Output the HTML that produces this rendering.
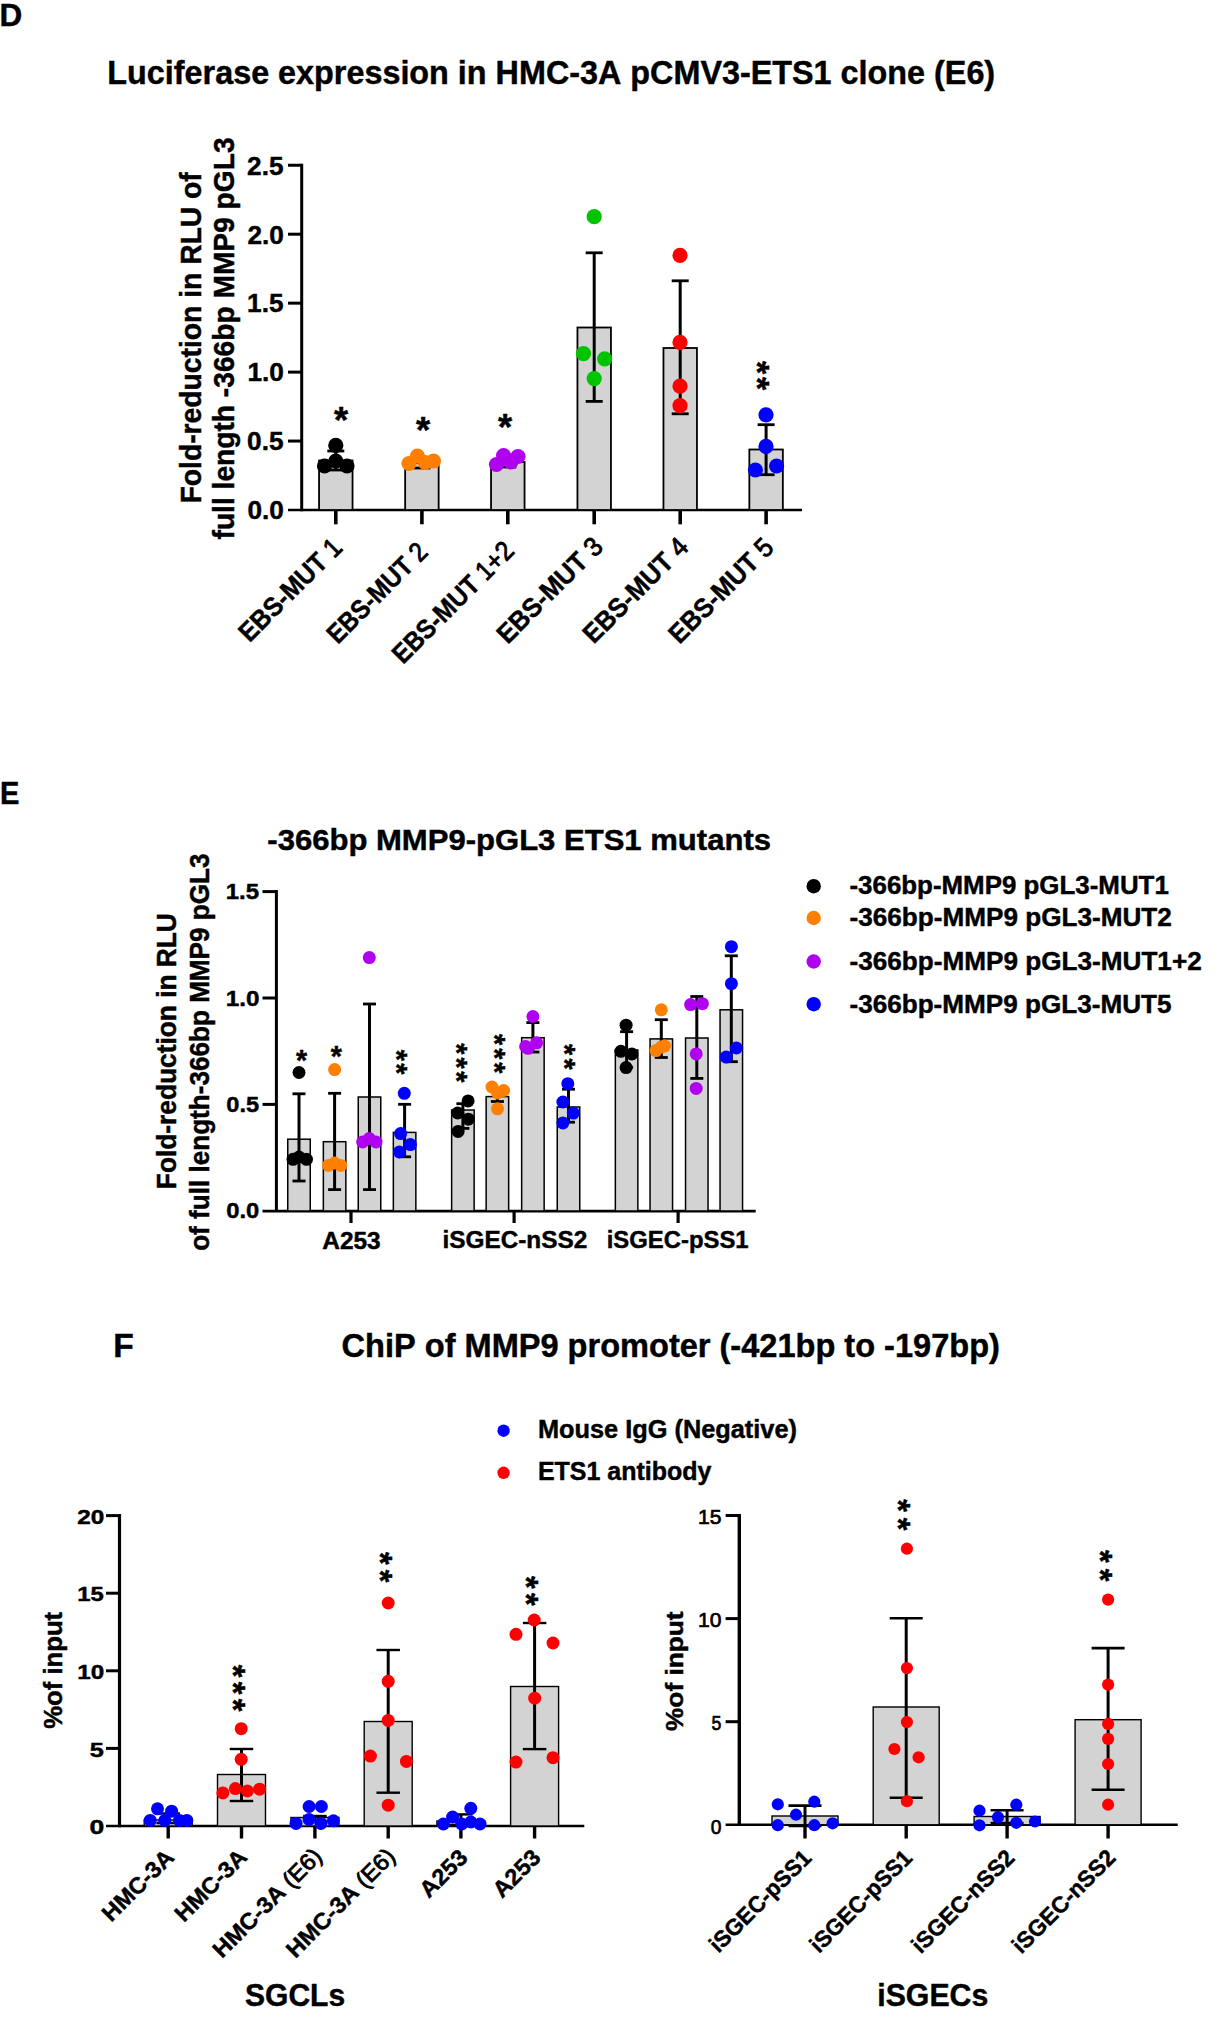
<!DOCTYPE html>
<html><head><meta charset="utf-8"><style>
html,body{margin:0;padding:0;background:#fff;}
body{width:1227px;height:2020px;overflow:hidden;}
svg{display:block;font-family:"Liberation Sans",sans-serif;font-kerning:none;}
text{font-kerning:none;}
[font-weight="700"]{stroke:#000;stroke-width:0.45px;}
</style></head><body>
<svg width="1227" height="2020" viewBox="0 0 1227 2020">
<rect width="1227" height="2020" fill="#fff"/>
<text transform="translate(-0.51,26.10) scale(1.0152,1)" font-size="31.00" font-weight="700" fill="#000">D</text>
<text transform="translate(107.34,83.50) scale(0.9517,1)" font-size="34.00" font-weight="700" fill="#000">Luciferase expression in HMC-3A pCMV3-ETS1 clone (E6)</text>
<line x1="301.70" y1="163.75" x2="301.70" y2="511.30" stroke="#000" stroke-width="3" stroke-linecap="butt"/>
<line x1="288.00" y1="441.05" x2="301.70" y2="441.05" stroke="#000" stroke-width="3" stroke-linecap="butt"/>
<line x1="288.00" y1="372.10" x2="301.70" y2="372.10" stroke="#000" stroke-width="3" stroke-linecap="butt"/>
<line x1="288.00" y1="303.15" x2="301.70" y2="303.15" stroke="#000" stroke-width="3" stroke-linecap="butt"/>
<line x1="288.00" y1="234.20" x2="301.70" y2="234.20" stroke="#000" stroke-width="3" stroke-linecap="butt"/>
<line x1="288.00" y1="165.25" x2="301.70" y2="165.25" stroke="#000" stroke-width="3" stroke-linecap="butt"/>
<text transform="translate(247.45,519.30) scale(0.9850,1)" font-size="26.60" font-weight="700" fill="#000">0.0</text>
<text transform="translate(247.11,450.35) scale(0.9850,1)" font-size="26.60" font-weight="700" fill="#000">0.5</text>
<text transform="translate(247.45,381.40) scale(0.9850,1)" font-size="26.60" font-weight="700" fill="#000">1.0</text>
<text transform="translate(247.11,312.45) scale(0.9850,1)" font-size="26.60" font-weight="700" fill="#000">1.5</text>
<text transform="translate(247.45,243.50) scale(0.9850,1)" font-size="26.60" font-weight="700" fill="#000">2.0</text>
<text transform="translate(247.11,174.55) scale(0.9850,1)" font-size="26.60" font-weight="700" fill="#000">2.5</text>
<line x1="288.00" y1="510.00" x2="802.00" y2="510.00" stroke="#000" stroke-width="2.6" stroke-linecap="butt"/>
<line x1="335.80" y1="511.00" x2="335.80" y2="524.30" stroke="#000" stroke-width="3.6" stroke-linecap="butt"/>
<line x1="421.90" y1="511.00" x2="421.90" y2="524.30" stroke="#000" stroke-width="3.6" stroke-linecap="butt"/>
<line x1="507.80" y1="511.00" x2="507.80" y2="524.30" stroke="#000" stroke-width="3.6" stroke-linecap="butt"/>
<line x1="594.20" y1="511.00" x2="594.20" y2="524.30" stroke="#000" stroke-width="3.6" stroke-linecap="butt"/>
<line x1="680.20" y1="511.00" x2="680.20" y2="524.30" stroke="#000" stroke-width="3.6" stroke-linecap="butt"/>
<line x1="766.10" y1="511.00" x2="766.10" y2="524.30" stroke="#000" stroke-width="3.6" stroke-linecap="butt"/>
<rect x="319.05" y="460.50" width="33.50" height="49.50" fill="#d3d3d3" stroke="#000" stroke-width="1.8"/>
<rect x="405.15" y="463.00" width="33.50" height="47.00" fill="#d3d3d3" stroke="#000" stroke-width="1.8"/>
<rect x="491.05" y="462.00" width="33.50" height="48.00" fill="#d3d3d3" stroke="#000" stroke-width="1.8"/>
<rect x="577.45" y="327.50" width="33.50" height="182.50" fill="#d3d3d3" stroke="#000" stroke-width="1.8"/>
<rect x="663.45" y="348.00" width="33.50" height="162.00" fill="#d3d3d3" stroke="#000" stroke-width="1.8"/>
<rect x="749.35" y="449.50" width="33.50" height="60.50" fill="#d3d3d3" stroke="#000" stroke-width="1.8"/>
<line x1="335.80" y1="451.00" x2="335.80" y2="470.00" stroke="#000" stroke-width="3" stroke-linecap="butt"/>
<line x1="327.30" y1="451.00" x2="344.30" y2="451.00" stroke="#000" stroke-width="2.8" stroke-linecap="butt"/>
<line x1="327.30" y1="470.00" x2="344.30" y2="470.00" stroke="#000" stroke-width="2.8" stroke-linecap="butt"/>
<line x1="421.90" y1="458.00" x2="421.90" y2="468.00" stroke="#000" stroke-width="3" stroke-linecap="butt"/>
<line x1="413.40" y1="458.00" x2="430.40" y2="458.00" stroke="#000" stroke-width="2.8" stroke-linecap="butt"/>
<line x1="413.40" y1="468.00" x2="430.40" y2="468.00" stroke="#000" stroke-width="2.8" stroke-linecap="butt"/>
<line x1="507.80" y1="457.00" x2="507.80" y2="467.00" stroke="#000" stroke-width="3" stroke-linecap="butt"/>
<line x1="499.30" y1="457.00" x2="516.30" y2="457.00" stroke="#000" stroke-width="2.8" stroke-linecap="butt"/>
<line x1="499.30" y1="467.00" x2="516.30" y2="467.00" stroke="#000" stroke-width="2.8" stroke-linecap="butt"/>
<line x1="594.20" y1="252.80" x2="594.20" y2="401.40" stroke="#000" stroke-width="3" stroke-linecap="butt"/>
<line x1="585.70" y1="252.80" x2="602.70" y2="252.80" stroke="#000" stroke-width="2.8" stroke-linecap="butt"/>
<line x1="585.70" y1="401.40" x2="602.70" y2="401.40" stroke="#000" stroke-width="2.8" stroke-linecap="butt"/>
<line x1="680.20" y1="280.80" x2="680.20" y2="413.80" stroke="#000" stroke-width="3" stroke-linecap="butt"/>
<line x1="671.70" y1="280.80" x2="688.70" y2="280.80" stroke="#000" stroke-width="2.8" stroke-linecap="butt"/>
<line x1="671.70" y1="413.80" x2="688.70" y2="413.80" stroke="#000" stroke-width="2.8" stroke-linecap="butt"/>
<line x1="766.10" y1="424.70" x2="766.10" y2="474.70" stroke="#000" stroke-width="3" stroke-linecap="butt"/>
<line x1="757.60" y1="424.70" x2="774.60" y2="424.70" stroke="#000" stroke-width="2.8" stroke-linecap="butt"/>
<line x1="757.60" y1="474.70" x2="774.60" y2="474.70" stroke="#000" stroke-width="2.8" stroke-linecap="butt"/>
<circle cx="335.80" cy="445.30" r="7.60" fill="#000"/>
<circle cx="324.50" cy="466.00" r="7.60" fill="#000"/>
<circle cx="335.80" cy="461.00" r="7.60" fill="#000"/>
<circle cx="347.00" cy="466.00" r="7.60" fill="#000"/>
<circle cx="409.00" cy="463.50" r="7.60" fill="#ff8000"/>
<circle cx="417.40" cy="456.00" r="7.60" fill="#ff8000"/>
<circle cx="425.20" cy="462.50" r="7.60" fill="#ff8000"/>
<circle cx="433.50" cy="461.00" r="7.60" fill="#ff8000"/>
<circle cx="496.50" cy="464.50" r="7.60" fill="#b000f0"/>
<circle cx="503.60" cy="455.60" r="7.60" fill="#b000f0"/>
<circle cx="510.80" cy="461.90" r="7.60" fill="#b000f0"/>
<circle cx="518.00" cy="456.50" r="7.60" fill="#b000f0"/>
<circle cx="594.20" cy="216.70" r="7.60" fill="#00c400"/>
<circle cx="583.50" cy="353.60" r="7.60" fill="#00c400"/>
<circle cx="604.70" cy="358.80" r="7.60" fill="#00c400"/>
<circle cx="594.20" cy="378.60" r="7.60" fill="#00c400"/>
<circle cx="680.00" cy="255.40" r="7.60" fill="#ff0000"/>
<circle cx="680.00" cy="342.40" r="7.60" fill="#ff0000"/>
<circle cx="680.00" cy="386.20" r="7.60" fill="#ff0000"/>
<circle cx="680.00" cy="405.70" r="7.60" fill="#ff0000"/>
<circle cx="766.00" cy="414.80" r="7.60" fill="#0000ff"/>
<circle cx="766.00" cy="446.40" r="7.60" fill="#0000ff"/>
<circle cx="755.40" cy="470.00" r="7.60" fill="#0000ff"/>
<circle cx="776.60" cy="466.00" r="7.60" fill="#0000ff"/>
<text transform="translate(333.89,433.25)" font-size="36.36" font-weight="700" fill="#000">*</text>
<text transform="translate(415.89,443.25)" font-size="36.36" font-weight="700" fill="#000">*</text>
<text transform="translate(497.89,440.25)" font-size="36.36" font-weight="700" fill="#000">*</text>
<text transform="translate(745.55,360.90) rotate(90)" font-size="33.77" font-weight="700" fill="#000">*</text>
<text transform="translate(745.55,376.90) rotate(90)" font-size="33.77" font-weight="700" fill="#000">*</text>
<text transform="translate(200.50,503.49) rotate(-90) scale(0.9751,1)" font-size="29.00" font-weight="700" fill="#000">Fold-reduction in RLU of</text>
<text transform="translate(233.80,539.48) rotate(-90) scale(0.9713,1)" font-size="29.00" font-weight="700" fill="#000">full length -366bp MMP9 pGL3</text>
<text transform="translate(249.46,643.36) rotate(-45) scale(0.9156,1)" font-size="27.00" fill="#000"><tspan font-weight="700">EBS-MUT </tspan><tspan font-weight="400" stroke="#000" stroke-width="0.9">1</tspan></text>
<text transform="translate(337.78,644.92) rotate(-45) scale(0.8872,1)" font-size="27.00" fill="#000"><tspan font-weight="700">EBS-MUT </tspan><tspan font-weight="400" stroke="#000" stroke-width="0.9">2</tspan></text>
<text transform="translate(402.91,665.08) rotate(-45) scale(0.9035,1)" font-size="27.00" fill="#000"><tspan font-weight="700">EBS-MUT </tspan><tspan font-weight="400" stroke="#000" stroke-width="0.9">1+2</tspan></text>
<text transform="translate(507.63,645.00) rotate(-45) scale(0.9413,1)" font-size="27.00" fill="#000"><tspan font-weight="700">EBS-MUT </tspan><tspan font-weight="400" stroke="#000" stroke-width="0.9">3</tspan></text>
<text transform="translate(593.79,644.84) rotate(-45) scale(0.9351,1)" font-size="27.00" fill="#000"><tspan font-weight="700">EBS-MUT </tspan><tspan font-weight="400" stroke="#000" stroke-width="0.9">4</tspan></text>
<text transform="translate(679.43,644.88) rotate(-45) scale(0.9319,1)" font-size="27.00" fill="#000"><tspan font-weight="700">EBS-MUT </tspan><tspan font-weight="400" stroke="#000" stroke-width="0.9">5</tspan></text>
<text transform="translate(0.06,804.00) scale(0.9372,1)" font-size="31.00" font-weight="700" fill="#000">E</text>
<text transform="translate(267.29,850.20) scale(1.0424,1)" font-size="29.80" font-weight="700" fill="#000">-366bp MMP9-pGL3 ETS1 mutants</text>
<line x1="276.40" y1="890.10" x2="276.40" y2="1212.00" stroke="#000" stroke-width="3" stroke-linecap="butt"/>
<line x1="262.50" y1="1104.40" x2="276.40" y2="1104.40" stroke="#000" stroke-width="3" stroke-linecap="butt"/>
<line x1="262.50" y1="998.00" x2="276.40" y2="998.00" stroke="#000" stroke-width="3" stroke-linecap="butt"/>
<line x1="262.50" y1="891.60" x2="276.40" y2="891.60" stroke="#000" stroke-width="3" stroke-linecap="butt"/>
<text transform="translate(226.26,1218.40) scale(1.0732,1)" font-size="22.20" font-weight="700" fill="#000">0.0</text>
<text transform="translate(226.27,1112.00) scale(1.0625,1)" font-size="22.20" font-weight="700" fill="#000">0.5</text>
<text transform="translate(225.67,1005.60) scale(1.0927,1)" font-size="22.20" font-weight="700" fill="#000">1.0</text>
<text transform="translate(225.69,899.20) scale(1.0816,1)" font-size="22.20" font-weight="700" fill="#000">1.5</text>
<line x1="262.50" y1="1211.10" x2="755.70" y2="1211.10" stroke="#000" stroke-width="2.8" stroke-linecap="butt"/>
<line x1="351.00" y1="1211.00" x2="351.00" y2="1223.00" stroke="#000" stroke-width="3.2" stroke-linecap="butt"/>
<line x1="514.10" y1="1211.00" x2="514.10" y2="1223.00" stroke="#000" stroke-width="3.2" stroke-linecap="butt"/>
<line x1="678.10" y1="1211.00" x2="678.10" y2="1223.00" stroke="#000" stroke-width="3.2" stroke-linecap="butt"/>
<text transform="translate(322.29,1248.50) scale(1.0394,1)" font-size="23.50" font-weight="700" fill="#000">A253</text>
<text transform="translate(442.60,1248.00) scale(1.0354,1)" font-size="23.50" font-weight="700" fill="#000">iSGEC-nSS2</text>
<text transform="translate(606.63,1248.00) scale(1.0165,1)" font-size="23.50" font-weight="700" fill="#000">iSGEC-pSS1</text>
<rect x="287.75" y="1139.20" width="22.50" height="71.80" fill="#d3d3d3" stroke="#000" stroke-width="1.5"/>
<rect x="323.35" y="1141.70" width="22.50" height="69.30" fill="#d3d3d3" stroke="#000" stroke-width="1.5"/>
<rect x="358.25" y="1097.00" width="22.50" height="114.00" fill="#d3d3d3" stroke="#000" stroke-width="1.5"/>
<rect x="393.35" y="1132.40" width="22.50" height="78.60" fill="#d3d3d3" stroke="#000" stroke-width="1.5"/>
<rect x="451.65" y="1110.00" width="22.50" height="101.00" fill="#d3d3d3" stroke="#000" stroke-width="1.5"/>
<rect x="486.15" y="1096.60" width="22.50" height="114.40" fill="#d3d3d3" stroke="#000" stroke-width="1.5"/>
<rect x="521.65" y="1037.70" width="22.50" height="173.30" fill="#d3d3d3" stroke="#000" stroke-width="1.5"/>
<rect x="557.25" y="1107.00" width="22.50" height="104.00" fill="#d3d3d3" stroke="#000" stroke-width="1.5"/>
<rect x="615.35" y="1050.00" width="22.50" height="161.00" fill="#d3d3d3" stroke="#000" stroke-width="1.5"/>
<rect x="650.05" y="1038.90" width="22.50" height="172.10" fill="#d3d3d3" stroke="#000" stroke-width="1.5"/>
<rect x="685.55" y="1038.00" width="22.50" height="173.00" fill="#d3d3d3" stroke="#000" stroke-width="1.5"/>
<rect x="720.05" y="1009.80" width="22.50" height="201.20" fill="#d3d3d3" stroke="#000" stroke-width="1.5"/>
<line x1="299.00" y1="1093.80" x2="299.00" y2="1181.00" stroke="#000" stroke-width="3" stroke-linecap="butt"/>
<line x1="292.50" y1="1093.80" x2="305.50" y2="1093.80" stroke="#000" stroke-width="2.8" stroke-linecap="butt"/>
<line x1="292.50" y1="1181.00" x2="305.50" y2="1181.00" stroke="#000" stroke-width="2.8" stroke-linecap="butt"/>
<line x1="334.60" y1="1093.30" x2="334.60" y2="1189.60" stroke="#000" stroke-width="3" stroke-linecap="butt"/>
<line x1="328.10" y1="1093.30" x2="341.10" y2="1093.30" stroke="#000" stroke-width="2.8" stroke-linecap="butt"/>
<line x1="328.10" y1="1189.60" x2="341.10" y2="1189.60" stroke="#000" stroke-width="2.8" stroke-linecap="butt"/>
<line x1="369.50" y1="1004.00" x2="369.50" y2="1189.60" stroke="#000" stroke-width="3" stroke-linecap="butt"/>
<line x1="363.00" y1="1004.00" x2="376.00" y2="1004.00" stroke="#000" stroke-width="2.8" stroke-linecap="butt"/>
<line x1="363.00" y1="1189.60" x2="376.00" y2="1189.60" stroke="#000" stroke-width="2.8" stroke-linecap="butt"/>
<line x1="404.60" y1="1104.30" x2="404.60" y2="1156.80" stroke="#000" stroke-width="3" stroke-linecap="butt"/>
<line x1="398.10" y1="1104.30" x2="411.10" y2="1104.30" stroke="#000" stroke-width="2.8" stroke-linecap="butt"/>
<line x1="398.10" y1="1156.80" x2="411.10" y2="1156.80" stroke="#000" stroke-width="2.8" stroke-linecap="butt"/>
<line x1="462.90" y1="1103.70" x2="462.90" y2="1128.40" stroke="#000" stroke-width="3" stroke-linecap="butt"/>
<line x1="456.40" y1="1103.70" x2="469.40" y2="1103.70" stroke="#000" stroke-width="2.8" stroke-linecap="butt"/>
<line x1="456.40" y1="1128.40" x2="469.40" y2="1128.40" stroke="#000" stroke-width="2.8" stroke-linecap="butt"/>
<line x1="497.40" y1="1091.00" x2="497.40" y2="1101.50" stroke="#000" stroke-width="3" stroke-linecap="butt"/>
<line x1="490.90" y1="1091.00" x2="503.90" y2="1091.00" stroke="#000" stroke-width="2.8" stroke-linecap="butt"/>
<line x1="490.90" y1="1101.50" x2="503.90" y2="1101.50" stroke="#000" stroke-width="2.8" stroke-linecap="butt"/>
<line x1="532.90" y1="1022.60" x2="532.90" y2="1052.00" stroke="#000" stroke-width="3" stroke-linecap="butt"/>
<line x1="526.40" y1="1022.60" x2="539.40" y2="1022.60" stroke="#000" stroke-width="2.8" stroke-linecap="butt"/>
<line x1="526.40" y1="1052.00" x2="539.40" y2="1052.00" stroke="#000" stroke-width="2.8" stroke-linecap="butt"/>
<line x1="568.50" y1="1089.20" x2="568.50" y2="1122.20" stroke="#000" stroke-width="3" stroke-linecap="butt"/>
<line x1="562.00" y1="1089.20" x2="575.00" y2="1089.20" stroke="#000" stroke-width="2.8" stroke-linecap="butt"/>
<line x1="562.00" y1="1122.20" x2="575.00" y2="1122.20" stroke="#000" stroke-width="2.8" stroke-linecap="butt"/>
<line x1="626.60" y1="1031.70" x2="626.60" y2="1067.30" stroke="#000" stroke-width="3" stroke-linecap="butt"/>
<line x1="620.10" y1="1031.70" x2="633.10" y2="1031.70" stroke="#000" stroke-width="2.8" stroke-linecap="butt"/>
<line x1="620.10" y1="1067.30" x2="633.10" y2="1067.30" stroke="#000" stroke-width="2.8" stroke-linecap="butt"/>
<line x1="661.30" y1="1019.70" x2="661.30" y2="1057.50" stroke="#000" stroke-width="3" stroke-linecap="butt"/>
<line x1="654.80" y1="1019.70" x2="667.80" y2="1019.70" stroke="#000" stroke-width="2.8" stroke-linecap="butt"/>
<line x1="654.80" y1="1057.50" x2="667.80" y2="1057.50" stroke="#000" stroke-width="2.8" stroke-linecap="butt"/>
<line x1="696.80" y1="996.50" x2="696.80" y2="1078.40" stroke="#000" stroke-width="3" stroke-linecap="butt"/>
<line x1="690.30" y1="996.50" x2="703.30" y2="996.50" stroke="#000" stroke-width="2.8" stroke-linecap="butt"/>
<line x1="690.30" y1="1078.40" x2="703.30" y2="1078.40" stroke="#000" stroke-width="2.8" stroke-linecap="butt"/>
<line x1="731.30" y1="955.80" x2="731.30" y2="1061.70" stroke="#000" stroke-width="3" stroke-linecap="butt"/>
<line x1="724.80" y1="955.80" x2="737.80" y2="955.80" stroke="#000" stroke-width="2.8" stroke-linecap="butt"/>
<line x1="724.80" y1="1061.70" x2="737.80" y2="1061.70" stroke="#000" stroke-width="2.8" stroke-linecap="butt"/>
<circle cx="299.00" cy="1072.50" r="6.50" fill="#000"/>
<circle cx="293.00" cy="1159.30" r="6.50" fill="#000"/>
<circle cx="299.00" cy="1157.00" r="6.50" fill="#000"/>
<circle cx="306.50" cy="1159.30" r="6.50" fill="#000"/>
<circle cx="334.60" cy="1069.60" r="6.50" fill="#ff8000"/>
<circle cx="328.50" cy="1165.40" r="6.50" fill="#ff8000"/>
<circle cx="334.60" cy="1163.00" r="6.50" fill="#ff8000"/>
<circle cx="340.70" cy="1165.40" r="6.50" fill="#ff8000"/>
<circle cx="369.30" cy="957.60" r="6.50" fill="#b000f0"/>
<circle cx="362.70" cy="1142.00" r="6.50" fill="#b000f0"/>
<circle cx="369.30" cy="1138.50" r="6.50" fill="#b000f0"/>
<circle cx="376.00" cy="1142.00" r="6.50" fill="#b000f0"/>
<circle cx="404.30" cy="1093.30" r="6.50" fill="#0000ff"/>
<circle cx="400.60" cy="1133.60" r="6.50" fill="#0000ff"/>
<circle cx="410.40" cy="1144.60" r="6.50" fill="#0000ff"/>
<circle cx="399.40" cy="1152.00" r="6.50" fill="#0000ff"/>
<circle cx="468.10" cy="1100.90" r="6.50" fill="#000"/>
<circle cx="457.70" cy="1113.00" r="6.50" fill="#000"/>
<circle cx="468.40" cy="1119.20" r="6.50" fill="#000"/>
<circle cx="458.10" cy="1131.40" r="6.50" fill="#000"/>
<circle cx="492.00" cy="1087.00" r="6.50" fill="#ff8000"/>
<circle cx="503.60" cy="1090.50" r="6.50" fill="#ff8000"/>
<circle cx="497.50" cy="1093.00" r="6.50" fill="#ff8000"/>
<circle cx="497.50" cy="1108.80" r="6.50" fill="#ff8000"/>
<circle cx="532.90" cy="1016.50" r="6.50" fill="#b000f0"/>
<circle cx="528.00" cy="1048.30" r="6.50" fill="#b000f0"/>
<circle cx="536.60" cy="1042.80" r="6.50" fill="#b000f0"/>
<circle cx="525.60" cy="1046.50" r="6.50" fill="#b000f0"/>
<circle cx="567.80" cy="1083.70" r="6.50" fill="#0000ff"/>
<circle cx="562.90" cy="1102.00" r="6.50" fill="#0000ff"/>
<circle cx="573.30" cy="1113.10" r="6.50" fill="#0000ff"/>
<circle cx="562.90" cy="1122.90" r="6.50" fill="#0000ff"/>
<circle cx="626.10" cy="1025.20" r="6.50" fill="#000"/>
<circle cx="620.90" cy="1051.30" r="6.50" fill="#000"/>
<circle cx="631.90" cy="1053.90" r="6.50" fill="#000"/>
<circle cx="626.10" cy="1067.60" r="6.50" fill="#000"/>
<circle cx="661.30" cy="1009.80" r="6.50" fill="#ff8000"/>
<circle cx="656.00" cy="1050.60" r="6.50" fill="#ff8000"/>
<circle cx="664.50" cy="1046.00" r="6.50" fill="#ff8000"/>
<circle cx="661.30" cy="1047.00" r="6.50" fill="#ff8000"/>
<circle cx="690.60" cy="1004.60" r="6.50" fill="#b000f0"/>
<circle cx="702.40" cy="1003.70" r="6.50" fill="#b000f0"/>
<circle cx="696.20" cy="1053.90" r="6.50" fill="#b000f0"/>
<circle cx="696.20" cy="1088.40" r="6.50" fill="#b000f0"/>
<circle cx="731.40" cy="946.70" r="6.50" fill="#0000ff"/>
<circle cx="731.40" cy="983.70" r="6.50" fill="#0000ff"/>
<circle cx="736.30" cy="1048.00" r="6.50" fill="#0000ff"/>
<circle cx="726.20" cy="1057.10" r="6.50" fill="#0000ff"/>
<text transform="translate(296.01,1069.74)" font-size="28.57" font-weight="700" fill="#000">*</text>
<text transform="translate(330.71,1066.04)" font-size="28.57" font-weight="700" fill="#000">*</text>
<text transform="translate(387.46,1049.81) rotate(90)" font-size="28.57" font-weight="700" fill="#000">*</text>
<text transform="translate(387.46,1063.21) rotate(90)" font-size="28.57" font-weight="700" fill="#000">*</text>
<text transform="translate(447.06,1043.31) rotate(90)" font-size="28.57" font-weight="700" fill="#000">*</text>
<text transform="translate(447.06,1057.41) rotate(90)" font-size="28.57" font-weight="700" fill="#000">*</text>
<text transform="translate(447.06,1071.21) rotate(90)" font-size="28.57" font-weight="700" fill="#000">*</text>
<text transform="translate(485.16,1034.11) rotate(90)" font-size="28.57" font-weight="700" fill="#000">*</text>
<text transform="translate(485.16,1048.21) rotate(90)" font-size="28.57" font-weight="700" fill="#000">*</text>
<text transform="translate(485.16,1062.21) rotate(90)" font-size="28.57" font-weight="700" fill="#000">*</text>
<text transform="translate(555.46,1043.91) rotate(90)" font-size="28.57" font-weight="700" fill="#000">*</text>
<text transform="translate(555.46,1058.61) rotate(90)" font-size="28.57" font-weight="700" fill="#000">*</text>
<text transform="translate(176.00,1189.16) rotate(-90) scale(0.9391,1)" font-size="28.00" font-weight="700" fill="#000">Fold-reduction in RLU</text>
<text transform="translate(208.80,1250.82) rotate(-90) scale(0.9325,1)" font-size="28.00" font-weight="700" fill="#000">of full length-366bp MMP9 pGL3</text>
<circle cx="813.70" cy="886.20" r="7.20" fill="#000"/>
<circle cx="813.70" cy="918.00" r="7.20" fill="#ff8000"/>
<circle cx="813.70" cy="961.50" r="7.20" fill="#b000f0"/>
<circle cx="813.70" cy="1004.20" r="7.20" fill="#0000ff"/>
<text transform="translate(849.49,894.20) scale(0.9776,1)" font-size="26.50" font-weight="700" fill="#000">-366bp-MMP9 pGL3-MUT1</text>
<text transform="translate(849.48,926.20) scale(0.9866,1)" font-size="26.50" font-weight="700" fill="#000">-366bp-MMP9 pGL3-MUT2</text>
<text transform="translate(849.48,969.70) scale(0.9871,1)" font-size="26.50" font-weight="700" fill="#000">-366bp-MMP9 pGL3-MUT1+2</text>
<text transform="translate(849.48,1012.70) scale(0.9856,1)" font-size="26.50" font-weight="700" fill="#000">-366bp-MMP9 pGL3-MUT5</text>
<text transform="translate(113.36,1356.50) scale(1.0154,1)" font-size="33.00" font-weight="700" fill="#000">F</text>
<text transform="translate(341.56,1357.20) scale(0.9871,1)" font-size="33.00" font-weight="700" fill="#000">ChiP of MMP9 promoter (-421bp to -197bp)</text>
<circle cx="503.60" cy="1430.70" r="6.20" fill="#0000ff"/>
<circle cx="503.60" cy="1472.80" r="6.20" fill="#ff0000"/>
<text transform="translate(537.90,1438.20) scale(0.9945,1)" font-size="25.50" font-weight="700" fill="#000">Mouse IgG (Negative)</text>
<text transform="translate(537.93,1479.80) scale(0.9802,1)" font-size="25.50" font-weight="700" fill="#000">ETS1 antibody</text>
<line x1="119.50" y1="1514.10" x2="119.50" y2="1827.30" stroke="#000" stroke-width="3.2" stroke-linecap="butt"/>
<line x1="106.00" y1="1748.40" x2="119.50" y2="1748.40" stroke="#000" stroke-width="3" stroke-linecap="butt"/>
<line x1="106.00" y1="1670.80" x2="119.50" y2="1670.80" stroke="#000" stroke-width="3" stroke-linecap="butt"/>
<line x1="106.00" y1="1593.20" x2="119.50" y2="1593.20" stroke="#000" stroke-width="3" stroke-linecap="butt"/>
<line x1="106.00" y1="1515.60" x2="119.50" y2="1515.60" stroke="#000" stroke-width="3" stroke-linecap="butt"/>
<text transform="translate(89.55,1834.20) scale(1.2737,1)" font-size="20.80" font-weight="700" fill="#000">0</text>
<text transform="translate(89.82,1756.60) scale(1.2175,1)" font-size="20.80" font-weight="700" fill="#000">5</text>
<text transform="translate(77.28,1679.00) scale(1.1634,1)" font-size="20.80" font-weight="700" fill="#000">10</text>
<text transform="translate(77.30,1601.40) scale(1.1484,1)" font-size="20.80" font-weight="700" fill="#000">15</text>
<text transform="translate(77.16,1523.80) scale(1.1687,1)" font-size="20.80" font-weight="700" fill="#000">20</text>
<line x1="106.00" y1="1826.00" x2="584.30" y2="1826.00" stroke="#000" stroke-width="2.6" stroke-linecap="butt"/>
<line x1="168.20" y1="1827.00" x2="168.20" y2="1838.50" stroke="#000" stroke-width="3.4" stroke-linecap="butt"/>
<line x1="241.50" y1="1827.00" x2="241.50" y2="1838.50" stroke="#000" stroke-width="3.4" stroke-linecap="butt"/>
<line x1="314.90" y1="1827.00" x2="314.90" y2="1838.50" stroke="#000" stroke-width="3.4" stroke-linecap="butt"/>
<line x1="388.20" y1="1827.00" x2="388.20" y2="1838.50" stroke="#000" stroke-width="3.4" stroke-linecap="butt"/>
<line x1="460.90" y1="1827.00" x2="460.90" y2="1838.50" stroke="#000" stroke-width="3.4" stroke-linecap="butt"/>
<line x1="534.60" y1="1827.00" x2="534.60" y2="1838.50" stroke="#000" stroke-width="3.4" stroke-linecap="butt"/>
<rect x="144.20" y="1820.00" width="48.00" height="6.00" fill="#d3d3d3" stroke="#000" stroke-width="1.4"/>
<rect x="217.50" y="1774.50" width="48.00" height="51.50" fill="#d3d3d3" stroke="#000" stroke-width="1.4"/>
<rect x="290.90" y="1817.50" width="48.00" height="8.50" fill="#d3d3d3" stroke="#000" stroke-width="1.4"/>
<rect x="364.20" y="1721.50" width="48.00" height="104.50" fill="#d3d3d3" stroke="#000" stroke-width="1.4"/>
<rect x="436.90" y="1821.00" width="48.00" height="5.00" fill="#d3d3d3" stroke="#000" stroke-width="1.4"/>
<rect x="510.60" y="1686.50" width="48.00" height="139.50" fill="#d3d3d3" stroke="#000" stroke-width="1.4"/>
<line x1="168.20" y1="1813.50" x2="168.20" y2="1823.00" stroke="#000" stroke-width="3" stroke-linecap="butt"/>
<line x1="156.45" y1="1813.50" x2="179.95" y2="1813.50" stroke="#000" stroke-width="2.4" stroke-linecap="butt"/>
<line x1="156.45" y1="1823.00" x2="179.95" y2="1823.00" stroke="#000" stroke-width="2.4" stroke-linecap="butt"/>
<line x1="241.50" y1="1749.00" x2="241.50" y2="1801.00" stroke="#000" stroke-width="3" stroke-linecap="butt"/>
<line x1="229.75" y1="1749.00" x2="253.25" y2="1749.00" stroke="#000" stroke-width="2.4" stroke-linecap="butt"/>
<line x1="229.75" y1="1801.00" x2="253.25" y2="1801.00" stroke="#000" stroke-width="2.4" stroke-linecap="butt"/>
<line x1="314.90" y1="1816.00" x2="314.90" y2="1821.00" stroke="#000" stroke-width="3" stroke-linecap="butt"/>
<line x1="303.15" y1="1816.00" x2="326.65" y2="1816.00" stroke="#000" stroke-width="2.4" stroke-linecap="butt"/>
<line x1="303.15" y1="1821.00" x2="326.65" y2="1821.00" stroke="#000" stroke-width="2.4" stroke-linecap="butt"/>
<line x1="388.20" y1="1650.00" x2="388.20" y2="1792.70" stroke="#000" stroke-width="3" stroke-linecap="butt"/>
<line x1="376.45" y1="1650.00" x2="399.95" y2="1650.00" stroke="#000" stroke-width="2.4" stroke-linecap="butt"/>
<line x1="376.45" y1="1792.70" x2="399.95" y2="1792.70" stroke="#000" stroke-width="2.4" stroke-linecap="butt"/>
<line x1="460.90" y1="1814.40" x2="460.90" y2="1825.00" stroke="#000" stroke-width="3" stroke-linecap="butt"/>
<line x1="449.15" y1="1814.40" x2="472.65" y2="1814.40" stroke="#000" stroke-width="2.4" stroke-linecap="butt"/>
<line x1="449.15" y1="1825.00" x2="472.65" y2="1825.00" stroke="#000" stroke-width="2.4" stroke-linecap="butt"/>
<line x1="534.60" y1="1623.00" x2="534.60" y2="1749.10" stroke="#000" stroke-width="3" stroke-linecap="butt"/>
<line x1="522.85" y1="1623.00" x2="546.35" y2="1623.00" stroke="#000" stroke-width="2.4" stroke-linecap="butt"/>
<line x1="522.85" y1="1749.10" x2="546.35" y2="1749.10" stroke="#000" stroke-width="2.4" stroke-linecap="butt"/>
<circle cx="157.50" cy="1808.80" r="6.50" fill="#0000ff"/>
<circle cx="171.60" cy="1811.20" r="6.50" fill="#0000ff"/>
<circle cx="150.20" cy="1820.40" r="6.50" fill="#0000ff"/>
<circle cx="164.80" cy="1820.40" r="6.50" fill="#0000ff"/>
<circle cx="179.50" cy="1820.40" r="6.50" fill="#0000ff"/>
<circle cx="186.80" cy="1820.40" r="6.50" fill="#0000ff"/>
<circle cx="241.20" cy="1728.70" r="6.50" fill="#ff0000"/>
<circle cx="241.20" cy="1759.30" r="6.50" fill="#ff0000"/>
<circle cx="222.90" cy="1792.90" r="6.50" fill="#ff0000"/>
<circle cx="235.40" cy="1788.60" r="6.50" fill="#ff0000"/>
<circle cx="247.40" cy="1791.00" r="6.50" fill="#ff0000"/>
<circle cx="259.60" cy="1789.20" r="6.50" fill="#ff0000"/>
<circle cx="309.10" cy="1806.50" r="6.50" fill="#0000ff"/>
<circle cx="321.40" cy="1806.50" r="6.50" fill="#0000ff"/>
<circle cx="296.00" cy="1823.40" r="6.50" fill="#0000ff"/>
<circle cx="309.10" cy="1819.50" r="6.50" fill="#0000ff"/>
<circle cx="320.90" cy="1823.40" r="6.50" fill="#0000ff"/>
<circle cx="333.40" cy="1820.80" r="6.50" fill="#0000ff"/>
<circle cx="388.20" cy="1603.00" r="6.50" fill="#ff0000"/>
<circle cx="388.20" cy="1681.30" r="6.50" fill="#ff0000"/>
<circle cx="388.20" cy="1720.40" r="6.50" fill="#ff0000"/>
<circle cx="370.40" cy="1756.10" r="6.50" fill="#ff0000"/>
<circle cx="406.40" cy="1761.40" r="6.50" fill="#ff0000"/>
<circle cx="388.20" cy="1805.20" r="6.50" fill="#ff0000"/>
<circle cx="470.80" cy="1808.30" r="6.50" fill="#0000ff"/>
<circle cx="452.60" cy="1817.00" r="6.50" fill="#0000ff"/>
<circle cx="443.40" cy="1824.00" r="6.50" fill="#0000ff"/>
<circle cx="461.70" cy="1824.00" r="6.50" fill="#0000ff"/>
<circle cx="470.80" cy="1822.00" r="6.50" fill="#0000ff"/>
<circle cx="480.00" cy="1824.00" r="6.50" fill="#0000ff"/>
<circle cx="534.20" cy="1620.00" r="6.50" fill="#ff0000"/>
<circle cx="516.00" cy="1634.30" r="6.50" fill="#ff0000"/>
<circle cx="553.00" cy="1643.00" r="6.50" fill="#ff0000"/>
<circle cx="534.70" cy="1698.20" r="6.50" fill="#ff0000"/>
<circle cx="516.00" cy="1762.10" r="6.50" fill="#ff0000"/>
<circle cx="553.00" cy="1757.70" r="6.50" fill="#ff0000"/>
<text transform="translate(222.00,1664.65) rotate(90)" font-size="32.47" font-weight="700" fill="#000">*</text>
<text transform="translate(222.00,1681.65) rotate(90)" font-size="32.47" font-weight="700" fill="#000">*</text>
<text transform="translate(222.00,1698.65) rotate(90)" font-size="32.47" font-weight="700" fill="#000">*</text>
<text transform="translate(369.30,1552.05) rotate(90)" font-size="32.47" font-weight="700" fill="#000">*</text>
<text transform="translate(369.30,1569.65) rotate(90)" font-size="32.47" font-weight="700" fill="#000">*</text>
<text transform="translate(515.00,1576.05) rotate(90)" font-size="32.47" font-weight="700" fill="#000">*</text>
<text transform="translate(515.00,1593.05) rotate(90)" font-size="32.47" font-weight="700" fill="#000">*</text>
<text transform="translate(61.70,1728.84) rotate(-90) scale(1.0281,1)" font-size="25.00" font-weight="700" fill="#000">%of input</text>
<text transform="translate(111.31,1922.72) rotate(-45) scale(1.0120,1)" font-size="23.00" fill="#000"><tspan font-weight="700">HMC-3A</tspan></text>
<text transform="translate(184.10,1922.92) rotate(-45) scale(1.0187,1)" font-size="23.00" fill="#000"><tspan font-weight="700">HMC-3A</tspan></text>
<text transform="translate(222.10,1958.95) rotate(-45) scale(1.0280,1)" font-size="23.00" fill="#000"><tspan font-weight="700">HMC-3A </tspan><tspan font-weight="400" stroke="#000" stroke-width="0.9">(E6)</tspan></text>
<text transform="translate(295.48,1958.92) rotate(-45) scale(1.0275,1)" font-size="23.00" fill="#000"><tspan font-weight="700">HMC-3A </tspan><tspan font-weight="400" stroke="#000" stroke-width="0.9">(E6)</tspan></text>
<text transform="translate(428.83,1899.10) rotate(-45) scale(1.0343,1)" font-size="23.00" fill="#000"><tspan font-weight="700">A253</tspan></text>
<text transform="translate(501.91,1899.07) rotate(-45) scale(1.0328,1)" font-size="23.00" fill="#000"><tspan font-weight="700">A253</tspan></text>
<text transform="translate(245.04,2006.00) scale(0.9382,1)" font-size="32.00" font-weight="700" fill="#000">SGCLs</text>
<line x1="739.30" y1="1514.00" x2="739.30" y2="1826.00" stroke="#000" stroke-width="3.4" stroke-linecap="butt"/>
<line x1="725.60" y1="1721.70" x2="739.30" y2="1721.70" stroke="#000" stroke-width="3" stroke-linecap="butt"/>
<line x1="725.60" y1="1618.60" x2="739.30" y2="1618.60" stroke="#000" stroke-width="3" stroke-linecap="butt"/>
<line x1="725.60" y1="1515.50" x2="739.30" y2="1515.50" stroke="#000" stroke-width="3" stroke-linecap="butt"/>
<text transform="translate(710.65,1833.50) scale(0.9165,1)" font-size="21.00" font-weight="400" fill="#000" stroke="#000" stroke-width="0.7">0</text>
<text transform="translate(711.49,1730.40) scale(0.8437,1)" font-size="21.00" font-weight="400" fill="#000" stroke="#000" stroke-width="0.7">5</text>
<text transform="translate(698.00,1627.30) scale(1.0029,1)" font-size="21.00" font-weight="400" fill="#000" stroke="#000" stroke-width="0.7">10</text>
<text transform="translate(697.99,1524.20) scale(1.0059,1)" font-size="21.00" font-weight="400" fill="#000" stroke="#000" stroke-width="0.7">15</text>
<line x1="725.60" y1="1824.80" x2="1177.70" y2="1824.80" stroke="#000" stroke-width="2.6" stroke-linecap="butt"/>
<line x1="805.00" y1="1826.00" x2="805.00" y2="1838.50" stroke="#000" stroke-width="3.4" stroke-linecap="butt"/>
<line x1="906.20" y1="1826.00" x2="906.20" y2="1838.50" stroke="#000" stroke-width="3.4" stroke-linecap="butt"/>
<line x1="1007.10" y1="1826.00" x2="1007.10" y2="1838.50" stroke="#000" stroke-width="3.4" stroke-linecap="butt"/>
<line x1="1108.10" y1="1826.00" x2="1108.10" y2="1838.50" stroke="#000" stroke-width="3.4" stroke-linecap="butt"/>
<rect x="772.00" y="1816.00" width="66.00" height="8.80" fill="#d3d3d3" stroke="#000" stroke-width="1.4"/>
<rect x="873.20" y="1707.00" width="66.00" height="117.80" fill="#d3d3d3" stroke="#000" stroke-width="1.4"/>
<rect x="974.10" y="1816.50" width="66.00" height="8.30" fill="#d3d3d3" stroke="#000" stroke-width="1.4"/>
<rect x="1075.10" y="1719.70" width="66.00" height="105.10" fill="#d3d3d3" stroke="#000" stroke-width="1.4"/>
<line x1="805.00" y1="1805.60" x2="805.00" y2="1826.00" stroke="#000" stroke-width="3" stroke-linecap="butt"/>
<line x1="788.50" y1="1805.60" x2="821.50" y2="1805.60" stroke="#000" stroke-width="2.6" stroke-linecap="butt"/>
<line x1="788.50" y1="1826.00" x2="821.50" y2="1826.00" stroke="#000" stroke-width="2.6" stroke-linecap="butt"/>
<line x1="906.20" y1="1618.30" x2="906.20" y2="1797.80" stroke="#000" stroke-width="3" stroke-linecap="butt"/>
<line x1="889.70" y1="1618.30" x2="922.70" y2="1618.30" stroke="#000" stroke-width="2.6" stroke-linecap="butt"/>
<line x1="889.70" y1="1797.80" x2="922.70" y2="1797.80" stroke="#000" stroke-width="2.6" stroke-linecap="butt"/>
<line x1="1007.10" y1="1810.20" x2="1007.10" y2="1823.00" stroke="#000" stroke-width="3" stroke-linecap="butt"/>
<line x1="990.60" y1="1810.20" x2="1023.60" y2="1810.20" stroke="#000" stroke-width="2.6" stroke-linecap="butt"/>
<line x1="990.60" y1="1823.00" x2="1023.60" y2="1823.00" stroke="#000" stroke-width="2.6" stroke-linecap="butt"/>
<line x1="1108.10" y1="1648.10" x2="1108.10" y2="1789.70" stroke="#000" stroke-width="3" stroke-linecap="butt"/>
<line x1="1091.60" y1="1648.10" x2="1124.60" y2="1648.10" stroke="#000" stroke-width="2.6" stroke-linecap="butt"/>
<line x1="1091.60" y1="1789.70" x2="1124.60" y2="1789.70" stroke="#000" stroke-width="2.6" stroke-linecap="butt"/>
<circle cx="777.80" cy="1804.30" r="6.10" fill="#0000ff"/>
<circle cx="814.30" cy="1801.70" r="6.10" fill="#0000ff"/>
<circle cx="796.00" cy="1814.70" r="6.10" fill="#0000ff"/>
<circle cx="777.80" cy="1825.20" r="6.10" fill="#0000ff"/>
<circle cx="814.30" cy="1825.20" r="6.10" fill="#0000ff"/>
<circle cx="832.60" cy="1823.30" r="6.10" fill="#0000ff"/>
<circle cx="906.90" cy="1548.70" r="6.10" fill="#ff0000"/>
<circle cx="906.90" cy="1668.10" r="6.10" fill="#ff0000"/>
<circle cx="906.90" cy="1722.10" r="6.10" fill="#ff0000"/>
<circle cx="894.40" cy="1749.00" r="6.10" fill="#ff0000"/>
<circle cx="918.60" cy="1757.30" r="6.10" fill="#ff0000"/>
<circle cx="906.90" cy="1801.20" r="6.10" fill="#ff0000"/>
<circle cx="979.50" cy="1810.70" r="6.10" fill="#0000ff"/>
<circle cx="1016.30" cy="1804.70" r="6.10" fill="#0000ff"/>
<circle cx="998.00" cy="1817.20" r="6.10" fill="#0000ff"/>
<circle cx="979.50" cy="1825.30" r="6.10" fill="#0000ff"/>
<circle cx="1016.30" cy="1822.80" r="6.10" fill="#0000ff"/>
<circle cx="1035.00" cy="1821.50" r="6.10" fill="#0000ff"/>
<circle cx="1108.10" cy="1599.60" r="6.10" fill="#ff0000"/>
<circle cx="1108.10" cy="1684.60" r="6.10" fill="#ff0000"/>
<circle cx="1108.10" cy="1723.90" r="6.10" fill="#ff0000"/>
<circle cx="1108.10" cy="1738.90" r="6.10" fill="#ff0000"/>
<circle cx="1108.10" cy="1764.00" r="6.10" fill="#ff0000"/>
<circle cx="1108.10" cy="1804.70" r="6.10" fill="#ff0000"/>
<text transform="translate(886.70,1499.25) rotate(90)" font-size="32.47" font-weight="700" fill="#000">*</text>
<text transform="translate(886.70,1517.65) rotate(90)" font-size="32.47" font-weight="700" fill="#000">*</text>
<text transform="translate(1088.80,1549.95) rotate(90)" font-size="32.47" font-weight="700" fill="#000">*</text>
<text transform="translate(1088.80,1568.65) rotate(90)" font-size="32.47" font-weight="700" fill="#000">*</text>
<text transform="translate(683.40,1730.95) rotate(-90) scale(1.0708,1)" font-size="24.50" font-weight="700" fill="#000">%of input</text>
<text transform="translate(718.45,1953.78) rotate(-45) scale(0.9764,1)" font-size="23.00" fill="#000"><tspan font-weight="700">iSGEC-pSS1</tspan></text>
<text transform="translate(818.97,1953.91) rotate(-45) scale(0.9791,1)" font-size="23.00" fill="#000"><tspan font-weight="700">iSGEC-pSS1</tspan></text>
<text transform="translate(920.85,1954.40) rotate(-45) scale(0.9846,1)" font-size="23.00" fill="#000"><tspan font-weight="700">iSGEC-nSS2</tspan></text>
<text transform="translate(1021.37,1954.63) rotate(-45) scale(0.9894,1)" font-size="23.00" fill="#000"><tspan font-weight="700">iSGEC-nSS2</tspan></text>
<text transform="translate(877.29,2006.20) scale(0.9453,1)" font-size="32.00" font-weight="700" fill="#000">iSGECs</text>
</svg></body></html>
